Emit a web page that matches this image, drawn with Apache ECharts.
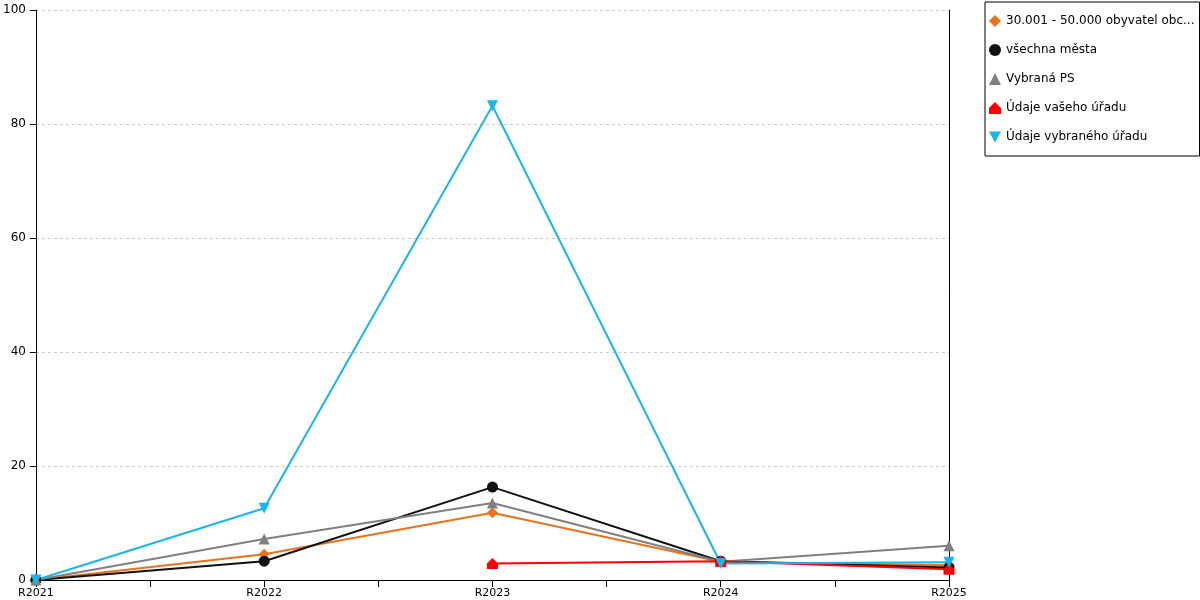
<!DOCTYPE html>
<html><head><meta charset="utf-8">
<script src="https://cdn.jsdelivr.net/npm/echarts@6/dist/echarts.min.js"></script>
<style>html,body{margin:0;padding:0;background:#fff}#c{width:1200px;height:600px}</style>
</head><body><div id="c"></div>
<script>
var categories = ['R2021','R2022','R2023','R2024','R2025'];
var yTicks = [0,20,40,60,80,100];
var seriesNames = ['30.001 - 50.000 obyvatel obce s rozšířenou působností','všechna města','Vybraná PS','Údaje vašeho úřadu','Údaje vybraného úřadu'];
var obyvatel = [0, 4.5, 11.8, 3.2, 2.6];
var vsechnaMesta = [0, 3.3, 16.3, 3.3, 2.2];
var vybranaPS = [0, 7.2, 13.5, 3.2, 6.0];
var vasUrad = [null, null, 2.9, 3.3, 1.9];
var vybranyUrad = [0, 12.6, 83.2, 2.9, 3.1];

var colors = ['#E8731C','#111111','#808080','#FF0000','#1AB5EA'];
var symbols = ['diamond','circle','triangle','path://M5,0 L10,5 L10,10 L0,10 L0,5 Z','path://M0,0 L10,0 L5,9 Z'];
var data = [obyvatel, vsechnaMesta, vybranaPS, vasUrad, vybranyUrad];

function toPts(arr){ return arr.map(function(v,i){ return v==null ? [i,null] : [i,v]; }); }

var series = data.map(function(arr,k){
  return {
    name: seriesNames[k], type:'line', data: toPts(arr),
    symbol: symbols[k], symbolSize: 11,
    showSymbol:true, connectNulls:false,
    lineStyle:{color:colors[k], width:2},
    itemStyle:{color:colors[k]},
    animation:false
  };
});

var chart = echarts.init(document.getElementById('c'));
chart.setOption({
  animation:false,
  textStyle:{fontFamily:'DejaVu Sans'},
  grid:{left:33, right:251, top:10, bottom:20, containLabel:false},
  legend:{
    orient:'vertical', left:985, top:2, itemWidth:12, itemHeight:12, itemGap:17,
    padding:[13,5,13,4], borderColor:'#000', borderWidth:1,
    textStyle:{fontFamily:'DejaVu Sans', fontSize:12, color:'#000', width:193, overflow:'truncate', ellipsis:'...'},
    data: seriesNames.map(function(n,k){ return {name:n, icon:symbols[k], itemStyle:{color:colors[k]}}; })
  },
  xAxis:{
    type:'value', min:0, max:categories.length-1, interval:0.5,
    axisLine:{show:true, lineStyle:{color:'#000', width:1}},
    axisTick:{show:true, length:7, lineStyle:{color:'#000'}},
    splitLine:{show:false},
    axisLabel:{fontFamily:'DejaVu Sans', fontSize:11, color:'#000', margin:8,
      formatter:function(v){ return Number.isInteger(v) ? categories[v] : ''; }}
  },
  yAxis:[{
    type:'value', min:yTicks[0], max:yTicks[yTicks.length-1], interval:20,
    axisLine:{show:true, lineStyle:{color:'#000'}},
    axisTick:{show:true, length:6, lineStyle:{color:'#000'}},
    splitLine:{show:true, lineStyle:{color:'#c8c8c8', type:[3,3]}},
    axisLabel:{fontFamily:'DejaVu Sans', fontSize:12, color:'#000', margin:10}
  },{
    type:'value', position:'right', min:0, max:100, interval:20,
    axisLine:{show:true, lineStyle:{color:'#000'}},
    axisTick:{show:false}, axisLabel:{show:false}, splitLine:{show:false}
  }],
  series: series
});
</script></body></html>
